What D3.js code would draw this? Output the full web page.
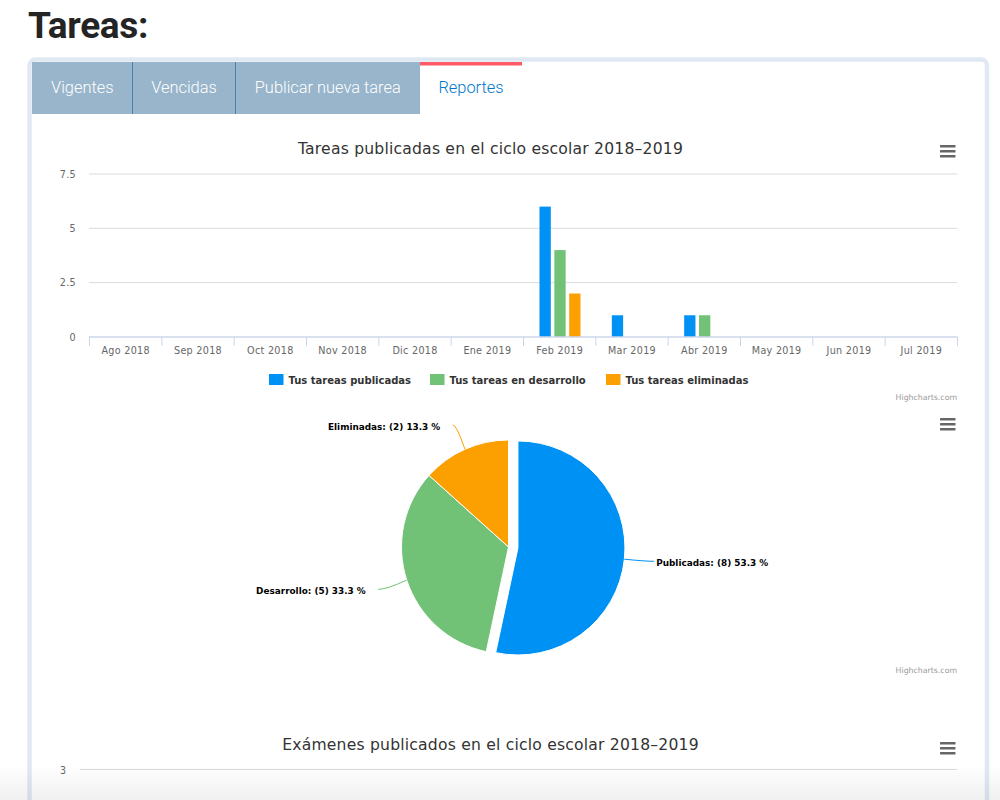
<!DOCTYPE html>
<html>
<head>
<meta charset="utf-8">
<script src="https://cdn.jsdelivr.net/npm/d3@7"></script>
<style>
  html, body { margin: 0; padding: 0; background: #fff; overflow: hidden; }
  svg { display: block; }
  text { font-family: "DejaVu Sans", sans-serif; }
  .domain { display: none; }
</style>
</head>
<body>
<svg id="chart" width="1000" height="800"></svg>
<script>
// data
const months = ["Ago 2018", "Sep 2018", "Oct 2018", "Nov 2018", "Dic 2018", "Ene 2019",
                "Feb 2019", "Mar 2019", "Abr 2019", "May 2019", "Jun 2019", "Jul 2019"];
const publicadas = [0, 0, 0, 0, 0, 0, 6, 1, 1, 0, 0, 0];
const desarrollo = [0, 0, 0, 0, 0, 0, 4, 0, 1, 0, 0, 0];
const eliminadas = [0, 0, 0, 0, 0, 0, 2, 0, 0, 0, 0, 0];
const seriesNames = ["Tus tareas publicadas", "Tus tareas en desarrollo", "Tus tareas eliminadas"];
const yTicks = [0, 2.5, 5, 7.5];
const pieNames = ["Publicadas", "Desarrollo", "Eliminadas"];
const pieValues = [8, 5, 2];
const pieLabels = ["53.3", "33.3", "13.3"];
const tabNames = ["Vigentes", "Vencidas", "Publicar nueva tarea", "Reportes"];
const colors = ["#0091f5", "#71c277", "#fc9f00"];

const svg = d3.select("#chart");

// page heading
svg.append("text").attr("x", 28).attr("y", 38)
  .style("font-family", "Roboto").style("font-weight", 700).style("font-size", "37px")
  .attr("fill", "#242424").attr("letter-spacing", -0.35).text("Tareas:");

// card
svg.append("rect").attr("x", 29.5).attr("y", 59.5).attr("width", 957.5).attr("height", 800).attr("rx", 6)
  .attr("fill", "#fff").attr("stroke", "#e0e9f2").attr("stroke-width", 4.5);

// tabs
const tabEdges = [32, 132.5, 235.5, 420, 522];
tabNames.forEach((name, i) => {
  const active = i === 3;
  svg.append("rect").attr("x", tabEdges[i]).attr("y", 62)
    .attr("width", tabEdges[i + 1] - tabEdges[i]).attr("height", 52)
    .attr("fill", active ? "#fff" : "#98b5cb");
  if (i > 0 && i < 3) {
    svg.append("rect").attr("x", tabEdges[i] - 0.5).attr("y", 62).attr("width", 1).attr("height", 52).attr("fill", "#4f80a8");
  }
  svg.append("text").attr("x", (tabEdges[i] + tabEdges[i + 1]) / 2).attr("y", 93)
    .attr("text-anchor", "middle")
    .style("font-family", "Roboto").style("font-weight", 300).style("font-size", "16.4px")
    .attr("fill", active ? "#0077cc" : "#fff").text(name);
});
svg.append("rect").attr("x", 420).attr("y", 62).attr("width", 102).attr("height", 3.5).attr("fill", "#ff5a67");

function menuIcon(y) {
  [0, 5, 10].forEach(d => {
    svg.append("rect").attr("x", 940).attr("y", y + d - 1).attr("width", 15.5).attr("height", 2.6)
      .attr("rx", 0.5).attr("fill", "#666");
  });
}
function credit(y) {
  svg.append("text").attr("x", 957).attr("y", y).attr("text-anchor", "end")
    .style("font-size", "7.8px").attr("fill", "#999").text("Highcharts.com");
}
function chartTitle(txt, y) {
  svg.append("text").attr("x", 490.5).attr("y", y).attr("text-anchor", "middle")
    .style("font-size", "15.6px").attr("letter-spacing", 0.2).attr("fill", "#333").text(txt);
}

// column chart
chartTitle("Tareas publicadas en el ciclo escolar 2018–2019", 153.5);
menuIcon(146);

const x = d3.scaleBand().domain(months).range([89, 957]);
const y = d3.scaleLinear().domain([0, 7.5]).range([337, 174]);
const x1 = d3.scaleBand().domain([0, 1, 2]).range([16.5, 57.5]).paddingInner(0.24);

const yAxis = svg.append("g").attr("transform", "translate(89,0)")
  .call(d3.axisLeft(y).tickValues(yTicks).tickFormat(d3.format("~g")).tickSize(0).tickPadding(13));
yAxis.selectAll("text").style("font-size", "9.6px").attr("fill", "#666").attr("letter-spacing", 0.3);

svg.append("g").selectAll("line").data(yTicks.filter(d => d > 0)).join("line")
  .attr("x1", 89).attr("x2", 957)
  .attr("y1", d => y(d)).attr("y2", d => y(d))
  .attr("stroke", "#d8dbe0");

[publicadas, desarrollo, eliminadas].forEach((vals, s) => {
  svg.append("g").selectAll("rect").data(vals.map((v, i) => ({ v, m: months[i] })).filter(d => d.v > 0)).join("rect")
    .attr("x", d => x(d.m) + x1(s))
    .attr("y", d => y(d.v))
    .attr("width", x1.bandwidth())
    .attr("height", d => y(0) - y(d.v))
    .attr("fill", colors[s]);
});

const xAxis = svg.append("g").attr("transform", "translate(0.5,337)")
  .call(d3.axisBottom(x).tickSize(0).tickPadding(10));
xAxis.selectAll("text").style("font-size", "9.6px").attr("fill", "#666").attr("letter-spacing", 0.3);

svg.append("line").attr("x1", 89).attr("x2", 957.5).attr("y1", 337).attr("y2", 337)
  .attr("stroke", "#ccd6eb").attr("stroke-width", 1.4);
svg.append("g").selectAll("line").data(d3.range(months.length + 1)).join("line")
  .attr("x1", i => 89.5 + i * x.step()).attr("x2", i => 89.5 + i * x.step())
  .attr("y1", 337).attr("y2", 346)
  .attr("stroke", "#ccd6eb");

// legend
const legendX = [269, 430, 606];
seriesNames.forEach((name, i) => {
  svg.append("rect").attr("x", legendX[i]).attr("y", 374).attr("width", 14.5).attr("height", 11).attr("fill", colors[i]);
  svg.append("text").attr("x", legendX[i] + 19.5).attr("y", 384)
    .style("font-size", "10px").style("font-weight", 700).attr("fill", "#333").text(name);
});
credit(400);

// pie chart
menuIcon(419);
const cx = 508.5, cy = 547, r = 107, slicedOffset = 9.5;
const pie = d3.pie().sort(null)(pieValues);
const arc = d3.arc().innerRadius(0).outerRadius(r);
const pol = (a, rad) => [Math.sin(a) * rad, -Math.cos(a) * rad];
const labelNudge = [-1, 0, 3];

pie.forEach((p, i) => {
  const mid = (p.startAngle + p.endAngle) / 2;
  const off = i === 0 ? pol(mid, slicedOffset) : [0, 0];
  const ox = cx + off[0], oy = cy + off[1];
  svg.append("path").attr("transform", `translate(${ox},${oy})`).attr("d", arc(p))
    .attr("fill", colors[i]).attr("stroke", "#fff").attr("stroke-width", 1);

  const s = pol(mid, r), e = pol(mid, r + 30);
  const sx = ox + s[0], sy = oy + s[1], ex = ox + e[0], ey = oy + e[1] + labelNudge[i];
  const side = Math.sin(mid) > 0 ? 1 : -1;
  svg.append("path")
    .attr("d", `M${sx},${sy} Q${sx + (ex - sx) * 0.7},${ey} ${ex},${ey}`)
    .attr("fill", "none").attr("stroke", colors[i]).attr("stroke-width", 1);
  svg.append("text").attr("x", ex + side * (i === 0 ? 2 : 12.5)).attr("y", ey + 5)
    .attr("text-anchor", side > 0 ? "start" : "end")
    .style("font-size", "8.9px").style("font-weight", 700).attr("fill", "#000")
    .text(`${pieNames[i]}: (${pieValues[i]}) ${pieLabels[i]} %`);
});
credit(673);

// next chart, cut off by the window
chartTitle("Exámenes publicados en el ciclo escolar 2018–2019", 750);
menuIcon(743);
svg.append("line").attr("x1", 80).attr("x2", 957).attr("y1", 769.5).attr("y2", 769.5).attr("stroke", "#d8dbe0");
svg.append("text").attr("x", 66).attr("y", 774).attr("text-anchor", "end")
  .style("font-size", "9.6px").attr("fill", "#666").text("3");

// fade at the bottom of the window
const grad = svg.append("defs").append("linearGradient").attr("id", "fade")
  .attr("x1", 0).attr("x2", 0).attr("y1", 0).attr("y2", 1);
grad.append("stop").attr("offset", 0).attr("stop-color", "#000").attr("stop-opacity", 0);
grad.append("stop").attr("offset", 1).attr("stop-color", "#000").attr("stop-opacity", 0.06);
svg.append("rect").attr("x", 0).attr("y", 765).attr("width", 1000).attr("height", 35).attr("fill", "url(#fade)");
</script>
</body>
</html>
